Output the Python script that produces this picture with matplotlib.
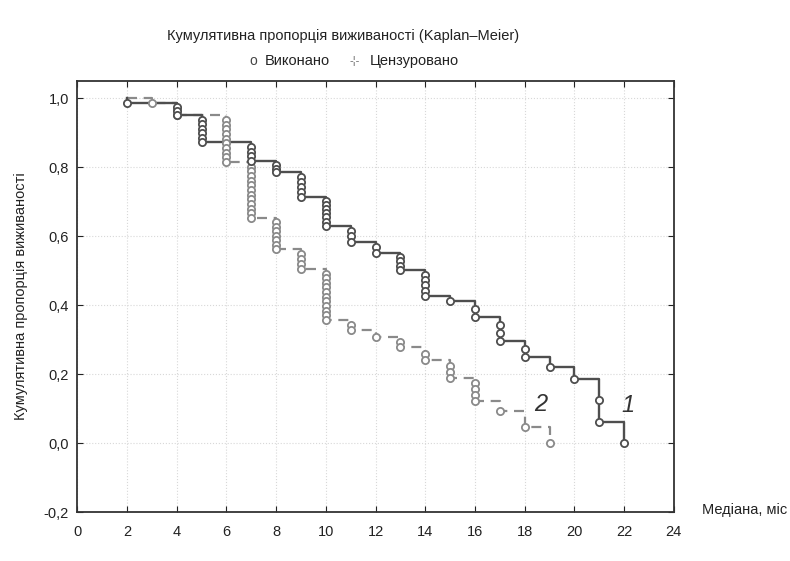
import numpy as np
import matplotlib
matplotlib.use("Agg")
import matplotlib.pyplot as plt
from matplotlib.ticker import FuncFormatter

plt.rcParams['font.family'] = ['Liberation Sans', 'DejaVu Sans']

# група 1 (суцільна лінія): час події, рівень після кроку, кількість подій
times1 = [2, 4, 5, 7, 8, 9, 10, 11, 12, 13, 14, 15, 16, 17, 18, 19, 20, 21, 22]
surv1 = [0.987, 0.950, 0.872, 0.818, 0.785, 0.715, 0.630, 0.584, 0.552, 0.502,
         0.427, 0.411, 0.367, 0.295, 0.249, 0.222, 0.186, 0.062, 0.0]
events1 = [1, 3, 6, 4, 3, 5, 7, 3, 2, 4, 5, 1, 2, 3, 2, 1, 1, 2, 1]

# група 2 (пунктир)
times2 = [3, 4, 6, 7, 8, 9, 10, 11, 12, 13, 14, 15, 16, 17, 18, 19]
surv2 = [0.985, 0.950, 0.815, 0.653, 0.562, 0.505, 0.357, 0.327, 0.309, 0.278,
         0.240, 0.190, 0.122, 0.094, 0.048, 0.0]
events2 = [1, 2, 10, 12, 7, 4, 11, 2, 1, 2, 2, 3, 4, 1, 1, 1]

start_time = 2
xticks = list(range(0, 25, 2))
yticks = [-0.2, 0.0, 0.2, 0.4, 0.6, 0.8, 1.0]

fig = plt.figure(figsize=(7.9, 5.61), dpi=100)
ax = fig.add_axes([0.0978, 0.0873, 0.7552, 0.7683])


def draw_curve(times, surv, events, color, ls, lw):
    xs = [start_time] + times
    ys = [1.0] + surv
    line, = ax.step(xs, ys, where='post', color=color, lw=lw, linestyle=ls, zorder=3)
    if ls == '--':
        line.set_dashes((4.5, 3))
    prev = 1.0
    for t, s, n in zip(times, surv, events):
        ypts = [prev - (i + 1) * (prev - s) / n for i in range(n)]
        ax.plot([t] * n, ypts, 'o', ms=5.2, mfc='white', mec=color, mew=1.3,
                zorder=4, linestyle='none')
        prev = s


draw_curve(times2, surv2, events2, '#8a8a8a', '--', 1.6)
draw_curve(times1, surv1, events1, '#4e4e4e', '-', 1.7)

ax.text(22.16, 0.11, '1', fontsize=17, style='italic', color='#333333',
        ha='center', va='center')
ax.text(18.66, 0.113, '2', fontsize=17, style='italic', color='#333333',
        ha='center', va='center')

ax.set_xlim(0, 24)
ax.set_ylim(-0.2, 1.05)
ax.set_xticks(xticks)
ax.set_yticks(yticks)
ax.yaxis.set_major_formatter(FuncFormatter(lambda v, p: f'{v:.1f}'.replace('.', ',')))
ax.tick_params(direction='in', top=True, right=True, length=4, labelsize=10.5,
               colors='#222222')
ax.tick_params(axis='x', pad=9)
ax.tick_params(axis='y', pad=6)
ax.grid(True, color='#d8d8d8', linestyle=':', linewidth=0.8)
for sp in ax.spines.values():
    sp.set_linewidth(1.3)
    sp.set_color('#333333')

ax.set_ylabel('Кумулятивна пропорція виживаності', fontsize=10.5, color='#222222',
              labelpad=11)
fig.text(0.889, 0.091, 'Медіана, міс', fontsize=10.5, ha='left', va='center',
         color='#222222')

fig.text(0.434, 0.936, 'Кумулятивна пропорція виживаності (Kaplan\u2013Meier)',
         fontsize=10.5, ha='center', va='center', color='#222222')
fig.text(0.321, 0.892, 'o', fontsize=10, ha='center', va='center', color='#444444')
fig.text(0.335, 0.892, 'Виконано', fontsize=10.5, ha='left', va='center', color='#222222')
fig.text(0.449, 0.892, '-¦-', fontsize=8, ha='center', va='center', color='#666666')
fig.text(0.468, 0.892, 'Цензуровано', fontsize=10.5, ha='left', va='center', color='#222222')

fig.savefig('out.png', dpi=100, facecolor='white')
